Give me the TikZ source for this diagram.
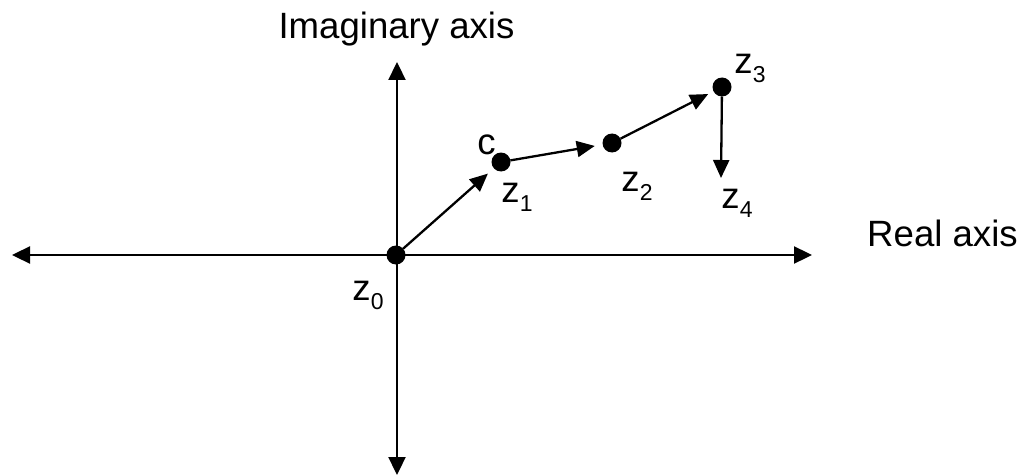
\documentclass[tikz,border=0pt]{standalone}
\usepackage{fontspec}
\setmainfont{Liberation Sans}
\usetikzlibrary{arrows.meta}
\newcommand{\zsub}[1]{z\raisebox{-9pt}{\fontsize{23}{24}\selectfont #1}}

\begin{document}
\begin{tikzpicture}[x=1pt, y=-1pt, line width=2.3pt,
  dot/.style={circle, fill=black, inner sep=0pt, minimum size=19pt, outer sep=0pt},
  axis/.style={{Triangle[length=18pt,width=17pt]}-{Triangle[length=18pt,width=17pt]}},
  vec/.style={-{Triangle[length=18pt,width=16pt]}, shorten >=8pt},
  lbl/.style={inner sep=0pt, font=\fontsize{36.6}{40}\selectfont}]
\useasboundingbox (0,0) rectangle (1022,476);
% axes
\coordinate (west) at (12,255);
\coordinate (east) at (812,255);
\coordinate (north) at (397,62);
\coordinate (south) at (397,475);
\draw[axis] (west) -- (east);
\draw[axis] (north) -- (south);
\node[lbl, anchor=base] (imlabel) at (396.5,39) {Imaginary axis};
\node[lbl, anchor=base] (relabel) at (942.5,246) {Real axis};
% iterates
\node[dot] (z0) at (396,255) {};
\node[dot] (z1) at (501,162) {};
\node[dot] (z2) at (612,143) {};
\node[dot] (z3) at (722,87) {};
\coordinate (z4) at (721,178);
\draw[vec] (z0) -- (z1);
\draw[vec] (z1) -- (z2);
\draw[vec, shorten >=6pt] (z2) -- (z3);
\draw[vec, shorten >=0pt] (z3) -- (z4);
% labels
\node[lbl] (lc) at (486.5,144.5) {c};
\node[lbl] (l0) at (368,295) {\zsub{0}};
\node[lbl] (l1) at (517,197) {\zsub{1}};
\node[lbl] (l2) at (637,186) {\zsub{2}};
\node[lbl] (l3) at (750,68) {\zsub{3}};
\node[lbl] (l4) at (737,203) {\zsub{4}};
\end{tikzpicture}
\end{document}
